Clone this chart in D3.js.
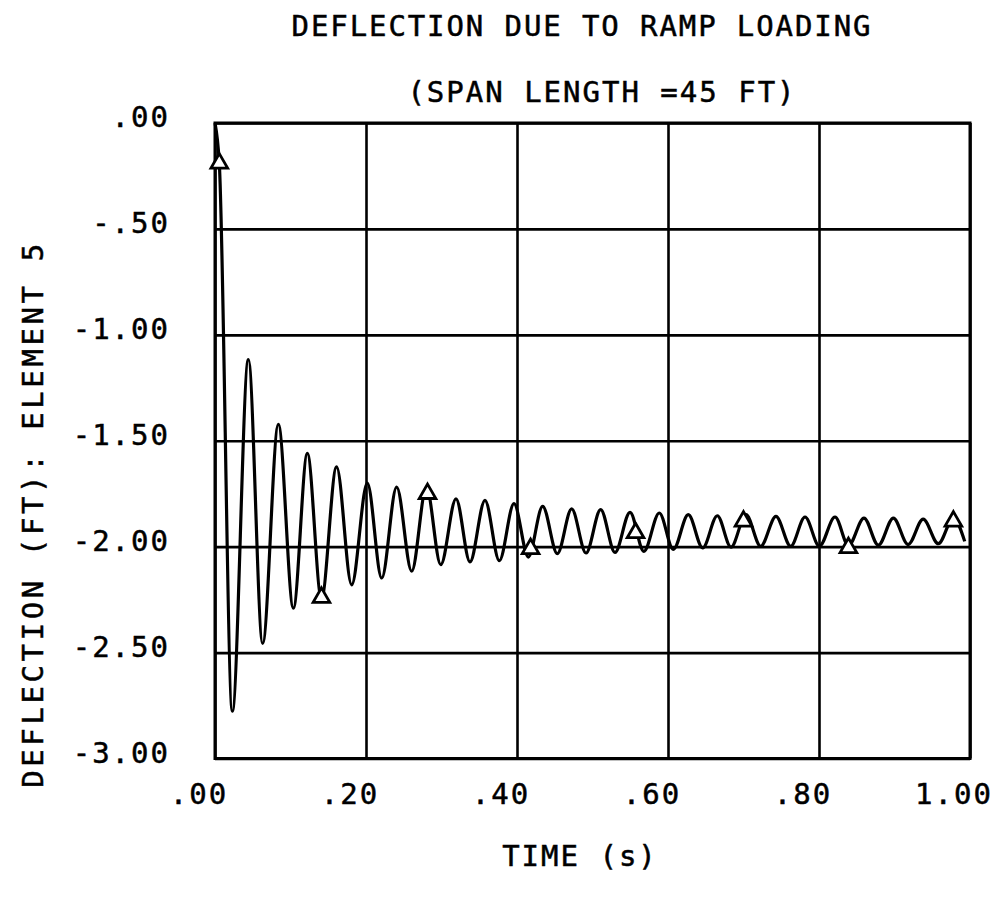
<!DOCTYPE html>
<html>
<head>
<meta charset="utf-8">
<script src="https://cdn.jsdelivr.net/npm/d3@7"></script>
<style>
  body { margin: 0; background: #fff; }
  text { font-family: "DejaVu Sans Mono", "Liberation Mono", monospace; fill: #000; stroke: #000; stroke-width: 0.5px; }
</style>
</head>
<body>
<svg id="chart" width="1006" height="897"></svg>
<script>
// Time history of deflection at element 5 (peaks and troughs of the response)
const curveTime = [0, 0.0057,
  0.0229, 0.0442, 0.0631, 0.0839, 0.1038, 0.1223, 0.141, 0.161, 0.181, 0.2017,
  0.2208, 0.2406, 0.2605, 0.280, 0.299, 0.3192, 0.3377, 0.3576, 0.3766, 0.396,
  0.415, 0.434, 0.4534, 0.4724, 0.4914, 0.5108, 0.5298, 0.5497, 0.568, 0.5885,
  0.607, 0.6269, 0.6459, 0.6653, 0.6834, 0.7033, 0.7228, 0.743, 0.7625, 0.7815,
  0.8005, 0.8212, 0.839, 0.8596, 0.8786, 0.8985, 0.918, 0.938, 0.958, 0.978,
  0.993];
const curveDeflection = [0, -0.19,
  -2.777, -1.117, -2.457, -1.423, -2.29, -1.56, -2.245, -1.623, -2.18, -1.70,
  -2.148, -1.719, -2.116, -1.72, -2.085, -1.774, -2.072, -1.781, -2.066, -1.797,
  -2.049, -1.81, -2.033, -1.822, -2.030, -1.825, -2.027, -1.838, -2.022, -1.841,
  -2.013, -1.849, -2.006, -1.854, -2.002, -1.849, -1.998, -1.857, -1.998, -1.86,
  -1.998, -1.86, -1.995, -1.865, -1.993, -1.865, -1.99, -1.87, -1.986, -1.865,
  -1.975];

// Plotted symbols along the curve
const markerTime = [0.0057, 0.141, 0.2815, 0.418, 0.557, 0.700, 0.839, 0.978];
const markerDeflection = [-0.19, -2.24, -1.75, -2.01, -1.935, -1.88, -2.005, -1.88];

// Axis ticks and their labels
const xTicks = [0, 0.2, 0.4, 0.6, 0.8, 1.0];
const xTickLabels = [".00", ".20", ".40", ".60", ".80", "1.00"];
const yTicks = [0, -0.5, -1.0, -1.5, -2.0, -2.5, -3.0];
const yTickLabels = [".00", "-.50", "-1.00", "-1.50", "-2.00", "-2.50", "-3.00"];

const titleText = "DEFLECTION DUE TO RAMP LOADING";
const subtitleText = "(SPAN LENGTH =45 FT)";
const xTitle = "TIME (s)";
const yTitle = "DEFLECTION (FT): ELEMENT 5";

const svg = d3.select("#chart");
const plotL = 215, plotR = 970, plotT = 123, plotB = 758.5;

const x = d3.scaleLinear().domain([0, 1]).range([plotL, plotR]);
const y = d3.scaleLinear().domain([-3, 0]).range([plotB, plotT]);

// Grid lines
const grid = svg.append("g");
grid.append("g")
  .attr("transform", `translate(0,${plotB})`)
  .call(d3.axisBottom(x).tickValues(xTicks).tickSize(-(plotB - plotT)).tickFormat(""))
  .call(g => g.select(".domain").remove())
  .call(g => g.selectAll("line").attr("stroke", "#000").attr("stroke-width", 2.6));
grid.append("g")
  .attr("transform", `translate(${plotL},0)`)
  .call(d3.axisLeft(y).tickValues(yTicks).tickSize(-(plotR - plotL)).tickFormat(""))
  .call(g => g.select(".domain").remove())
  .call(g => g.selectAll("line").attr("stroke", "#000").attr("stroke-width", 2.6));

// Frame
svg.append("rect")
  .attr("x", plotL).attr("y", plotT)
  .attr("width", plotR - plotL).attr("height", plotB - plotT)
  .attr("fill", "none").attr("stroke", "#000").attr("stroke-width", 3);

// Tick labels
svg.append("g").selectAll("text").data(xTicks).join("text")
  .attr("x", d => x(d) - 16)
  .attr("y", 804)
  .attr("text-anchor", "middle")
  .attr("font-size", 29)
  .attr("letter-spacing", 2)
  .text((d, i) => xTickLabels[i]);

svg.append("g").selectAll("text").data(yTicks).join("text")
  .attr("x", 170)
  .attr("y", d => y(d) + 4)
  .attr("text-anchor", "end")
  .attr("font-size", 29)
  .attr("letter-spacing", 2)
  .text((d, i) => yTickLabels[i]);

// Titles
svg.append("text").attr("x", 582).attr("y", 36).attr("text-anchor", "middle")
  .attr("font-size", 29).attr("letter-spacing", 1.9).text(titleText);
svg.append("text").attr("x", 602).attr("y", 102).attr("text-anchor", "middle")
  .attr("font-size", 29).attr("letter-spacing", 2).text(subtitleText);
svg.append("text").attr("x", 580).attr("y", 866).attr("text-anchor", "middle")
  .attr("font-size", 29).attr("letter-spacing", 2).text(xTitle);
svg.append("text")
  .attr("transform", "translate(43,514) rotate(-90)")
  .attr("text-anchor", "middle")
  .attr("font-size", 29).attr("letter-spacing", 3.6).text(yTitle);

// Deflection curve
const pts = curveTime.map((t, i) => [t, curveDeflection[i]]);
const line = d3.line().x(d => x(d[0])).y(d => y(d[1])).curve(d3.curveMonotoneX);
svg.append("path").datum(pts)
  .attr("d", line)
  .attr("fill", "none").attr("stroke", "#000")
  .attr("stroke-width", 3.2).attr("stroke-linejoin", "round");

// Triangle symbols
const tri = d3.symbol().type(d3.symbolTriangle).size(120);
svg.append("g").selectAll("path").data(markerTime).join("path")
  .attr("transform", (d, i) => `translate(${x(d)},${y(markerDeflection[i])})`)
  .attr("d", tri)
  .attr("fill", "#fff").attr("stroke", "#000").attr("stroke-width", 2.8);
</script>
</body>
</html>
